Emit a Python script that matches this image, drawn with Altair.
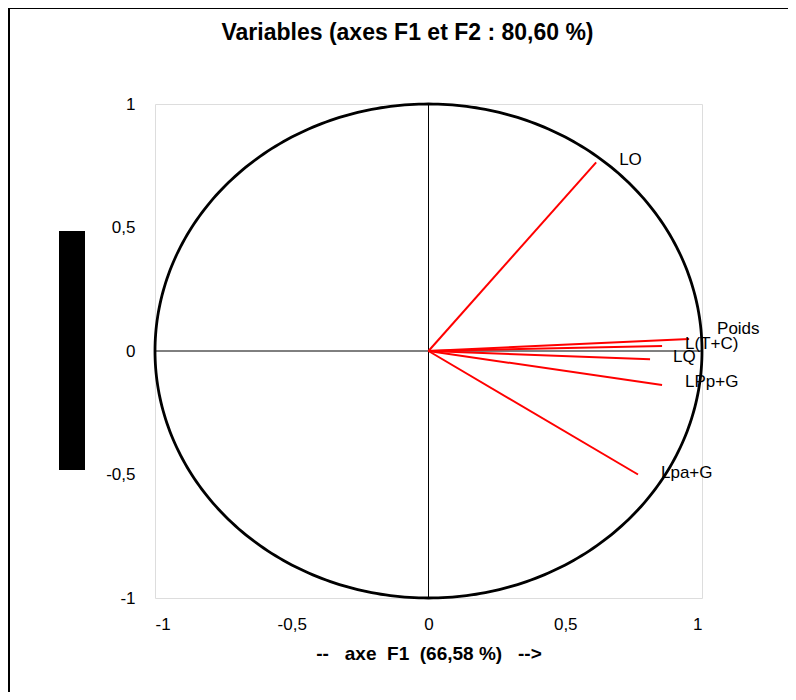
import altair as alt
import numpy as np
import pandas as pd

# Variables (correlation with F1, F2)
var_names = ["LO", "Poids", "L(T+C)", "LQ", "LPp+G", "Lpa+G"]
f1_values = [0.613, 0.953, 0.854, 0.810, 0.854, 0.766]
f2_values = [0.764, 0.049, 0.020, -0.033, -0.138, -0.500]
# label anchor points (data units)
label_x = [0.697, 1.055, 0.938, 0.894, 0.938, 0.850]
label_y = [0.772, 0.089, 0.028, -0.024, -0.126, -0.492]
tick_vals = [-1, -0.5, 0, 0.5, 1]

FONT = "Liberation Sans"
NB = "\u00a0"

# unit correlation circle (geometry)
t = np.linspace(0, 2 * np.pi, 361)
circle = pd.DataFrame({"x": np.cos(t), "y": np.sin(t), "i": np.arange(len(t))})

vec = pd.DataFrame({"name": var_names, "x": f1_values, "y": f2_values,
                    "ox": [0.0] * len(var_names), "oy": [0.0] * len(var_names)})
lab = pd.DataFrame({"name": var_names, "x": label_x, "y": label_y})

xscale = alt.Scale(domain=[-1, 1], nice=False, zero=False)
yscale = alt.Scale(domain=[-1, 1], nice=False, zero=False)
label_expr = "replace(toString(datum.value), '.', ',')"
x_title = f"--{NB}{NB}{NB}axe{NB}{NB}F1{NB}{NB}(66,58{NB}%){NB}{NB}{NB}-->"
main_title = f"Variables{NB}(axes{NB}F1{NB}et{NB}F2{NB}:{NB}80,60{NB}%)"

circ = alt.Chart(circle).mark_line(color="black", strokeWidth=2.8).encode(
    x=alt.X("x:Q", scale=xscale,
            axis=alt.Axis(values=tick_vals, labelExpr=label_expr, domain=False, ticks=False,
                          tickSize=0, grid=False, labelPadding=18, labelFontSize=17,
                          labelFont=FONT, labelColor="black",
                          title=x_title, titleFont=FONT, titleFontSize=19,
                          titleFontWeight="bold", titlePadding=12, titleColor="black")),
    y=alt.Y("y:Q", scale=yscale,
            axis=alt.Axis(values=tick_vals, labelExpr=label_expr, domain=False, ticks=False,
                          tickSize=0, grid=False, labelPadding=20, labelFontSize=17,
                          labelFont=FONT, labelColor="black", title=None)),
    order="i:Q",
)

hline = alt.Chart(pd.DataFrame({"a": [0]})).mark_rule(color="black", strokeWidth=1).encode(
    x=alt.X(datum=-1), x2=alt.datum(1), y=alt.Y(datum=0))
vline = alt.Chart(pd.DataFrame({"a": [0]})).mark_rule(color="black", strokeWidth=1).encode(
    y=alt.Y(datum=-1), y2=alt.datum(1), x=alt.X(datum=0))

vectors = alt.Chart(vec).mark_rule(color="#FF0000", strokeWidth=2).encode(
    x="ox:Q", y="oy:Q", x2="x:Q", y2="y:Q")

labels = alt.Chart(lab).mark_text(align="left", baseline="middle", font=FONT,
                                  fontSize=17, color="black").encode(
    x="x:Q", y="y:Q", text="name:N")

# decorations: black block on left, chart frame
deco_df = pd.DataFrame({"a": [0]})
block = alt.Chart(deco_df).mark_rect(color="black").encode(
    x=alt.value(-96), x2=alt.value(-70), y=alt.value(127), y2=alt.value(366))
frame_top = alt.Chart(deco_df).mark_rule(color="black", strokeWidth=2).encode(
    x=alt.value(-146), x2=alt.value(640), y=alt.value(-96))
frame_left = alt.Chart(deco_df).mark_rule(color="black", strokeWidth=2).encode(
    x=alt.value(-146), y=alt.value(-96), y2=alt.value(600))

chart = alt.layer(circ, hline, vline, vectors, labels, block, frame_top, frame_left).properties(
    width=547, height=494,
    autosize=alt.AutoSizeParams(type="none"),
    padding={"left": 147, "top": 96, "right": 86, "bottom": 94},
    title=alt.TitleParams(main_title, font=FONT, fontSize=23,
                          fontWeight="bold", color="black", anchor="middle", dx=-21,
                          baseline="alphabetic", offset=0, dy=56),
).configure_view(stroke="#999999", strokeWidth=1).configure(background="white")

chart.save("out.html", embed_options={"renderer": "svg", "actions": False})
